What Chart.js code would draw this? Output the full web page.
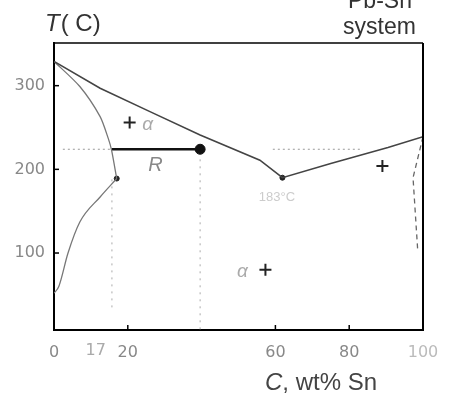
<!DOCTYPE html>
<html>
<head>
<meta charset="utf-8">
<script src="https://cdn.jsdelivr.net/npm/chart.js@4.4.1/dist/chart.umd.min.js"></script>
<style>
  body { margin: 0; background: #fff; }
  canvas { display: block; }
</style>
</head>
<body>
<canvas id="phase_chart" width="457" height="395"></canvas>
<script>
// tick labels
const xTicks = [0, 20, 60, 80, 100];
const yTicks = [100, 200, 300];

// liquidus (L / L+alpha / L+beta)
const liquidusC = [0, 12.5, 26, 39.6, 55.8, 61.9, 75, 90.5, 100];
const liquidusT = [329, 297, 269, 241, 211, 190, 207, 226, 239];

// alpha solidus and solvus
const solidusAlphaC = [0, 7, 12.5, 14.7, 15.6, 17];
const solidusAlphaT = [329, 299, 263, 237, 223, 189];
const solvusAlphaC = [0, 1.3, 3.8, 7, 12.5, 17];
const solvusAlphaT = [52, 60, 100, 137, 167, 189];

// beta side (near 100 wt% Sn)
const solvusBetaC = [100, 97.3, 98.6];
const solvusBetaT = [239, 190, 101];

// tie line at T = 224 C, composition point C0 = 40
const tieC = [15.6, 39.6];
const tieT = 224;
const pointC = [39.6];
const pointT = [224];

// small marks
const eutecticC = [61.9, 17];
const eutecticT = [190, 189];

// dotted guides
const guideLeftC = [2.4, 15.6];
const guideRightC = [59.3, 83.7];
const guideT = 224;
const guideVC0 = [39.6, 39.6];
const guideVT0 = [212, 8];
const guideVC1 = [15.7, 15.7];
const guideVT1 = [188, 30];

// region crosses
const crossC = [20.5, 89, 57.3];
const crossT = [256, 204, 80];

const pts = (cs, ts) => cs.map((c, i) => ({ x: c, y: Array.isArray(ts) ? ts[i] : ts }));

const FONT = '"Liberation Sans", Arial, sans-serif';
const TICK_FONT = '"DejaVu Sans", sans-serif';

const framePlugin = {
    id: 'frame',
    afterDraw(chart) {
        const { ctx, chartArea: a, scales: { x, y } } = chart;
        ctx.save();
        ctx.strokeStyle = '#000';
        // top + right border
        ctx.lineWidth = 1.5;
        ctx.beginPath();
        ctx.moveTo(a.left, a.top);
        ctx.lineTo(a.right, a.top);
        ctx.stroke();
        ctx.lineWidth = 2;
        ctx.beginPath();
        ctx.moveTo(a.right, a.top);
        ctx.lineTo(a.right, a.bottom);
        ctx.stroke();

        // inward ticks
        ctx.lineWidth = 1.5;
        yTicks.forEach((v) => {
            const py = y.getPixelForValue(v);
            ctx.beginPath();
            ctx.moveTo(a.left, py);
            ctx.lineTo(a.left + 5, py);
            ctx.stroke();
        });
        xTicks.filter((v) => v > 0 && v < 100).forEach((v) => {
            const px = x.getPixelForValue(v);
            ctx.beginPath();
            ctx.moveTo(px, a.bottom);
            ctx.lineTo(px, a.bottom - 5);
            ctx.stroke();
        });

        // extra x label "17" (shifted left to clear "20")
        ctx.fillStyle = '#aaa';
        ctx.font = '16px ' + TICK_FONT;
        ctx.textAlign = 'center';
        ctx.textBaseline = 'top';
        ctx.fillText('17', x.getPixelForValue(17) - 21, a.bottom + 13);

        // axis titles
        ctx.textAlign = 'left';
        ctx.textBaseline = 'alphabetic';
        ctx.fillStyle = '#333';
        ctx.font = 'italic 24px ' + FONT;
        ctx.fillText('T', 45, 31);
        let w = ctx.measureText('T').width;
        ctx.font = '24px ' + FONT;
        ctx.fillText('( C)', 45 + w + 1, 31);

        ctx.fillStyle = '#444';
        ctx.font = 'italic 24px ' + FONT;
        ctx.fillText('C', 265, 390);
        w = ctx.measureText('C').width;
        ctx.font = '24px ' + FONT;
        ctx.fillText(', wt% Sn', 265 + w, 390);

        ctx.fillStyle = '#333';
        ctx.font = '23px ' + FONT;
        ctx.fillText('Pb-Sn', 348, 8);
        ctx.fillText('system', 343, 34);

        // region labels
        ctx.textAlign = 'center';
        ctx.textBaseline = 'middle';
        ctx.fillStyle = '#aaa';
        ctx.font = 'italic 19px ' + FONT;
        ctx.fillText('α', x.getPixelForValue(crossC[0]) + 18, y.getPixelForValue(crossT[0]) + 2);
        ctx.fillText('α', x.getPixelForValue(crossC[2]) - 23, y.getPixelForValue(crossT[2]) + 2);
        ctx.fillStyle = '#888';
        ctx.font = 'italic 20px ' + FONT;
        ctx.fillText('R', x.getPixelForValue(27.5), y.getPixelForValue(tieT) + 16);
        ctx.fillStyle = '#ccc';
        ctx.font = '13px ' + FONT;
        ctx.fillText('183°C', x.getPixelForValue(60.4), y.getPixelForValue(166));
        ctx.restore();
    }
};

const ctx = document.getElementById('phase_chart').getContext('2d');

const lineSet = (data, color, width, extra) => Object.assign({
    data,
    showLine: true,
    borderColor: color,
    borderWidth: width,
    pointRadius: 0,
    fill: false,
    tension: 0
}, extra || {});

new Chart(ctx, {
    type: 'scatter',
    data: {
        datasets: [
            lineSet(pts(liquidusC, liquidusT), '#444', 1.6),
            lineSet(pts(solidusAlphaC, solidusAlphaT), '#777', 1.3, { tension: 0.25 }),
            lineSet(pts(solvusAlphaC, solvusAlphaT), '#777', 1.3, { cubicInterpolationMode: 'monotone' }),
            lineSet(pts(solvusBetaC, solvusBetaT), '#666', 1.3, { borderDash: [5, 4] }),
            lineSet(pts(guideLeftC, guideT), '#999', 1, { borderDash: [2, 3] }),
            lineSet(pts(guideRightC, guideT), '#999', 1, { borderDash: [2, 3] }),
            lineSet(pts(guideVC0, guideVT0), '#aaa', 1, { borderDash: [2, 5] }),
            lineSet(pts(guideVC1, guideVT1), '#aaa', 1, { borderDash: [2, 5] }),
            lineSet(pts(tieC, tieT), '#111', 2.6),
            {
                data: pts(pointC, pointT),
                pointRadius: 5,
                pointBackgroundColor: '#111',
                pointBorderColor: '#111'
            },
            {
                data: pts(eutecticC, eutecticT),
                pointRadius: 2.5,
                pointBackgroundColor: '#222',
                pointBorderColor: '#222'
            },
            {
                data: pts(crossC, crossT),
                pointStyle: 'cross',
                pointRadius: 6,
                borderWidth: 2,
                pointBorderColor: '#222'
            }
        ]
    },
    options: {
        responsive: false,
        animation: false,
        layout: { padding: { top: 43, right: 34, left: 0, bottom: 0 } },
        plugins: {
            legend: { display: false },
            tooltip: { enabled: false }
        },
        scales: {
            x: {
                type: 'linear',
                min: 0,
                max: 100,
                afterBuildTicks: (scale) => { scale.ticks = xTicks.map((v) => ({ value: v })); },
                afterFit: (scale) => { scale.height = 65; },
                grid: { display: false, drawTicks: false },
                border: { display: true, color: '#000', width: 2 },
                ticks: {
                    padding: 13,
                    color: (c) => (c.tick && c.tick.value === 100 ? '#bbb' : '#888'),
                    font: { family: TICK_FONT, size: 16 }
                }
            },
            y: {
                type: 'linear',
                min: 8,
                max: 351,
                afterBuildTicks: (scale) => { scale.ticks = yTicks.map((v) => ({ value: v })); },
                afterFit: (scale) => { scale.width = 54; },
                grid: { display: false, drawTicks: false },
                border: { display: true, color: '#000', width: 2 },
                ticks: {
                    padding: 9,
                    color: '#888',
                    font: { family: TICK_FONT, size: 16 }
                }
            }
        }
    },
    plugins: [framePlugin]
});
</script>
</body>
</html>
